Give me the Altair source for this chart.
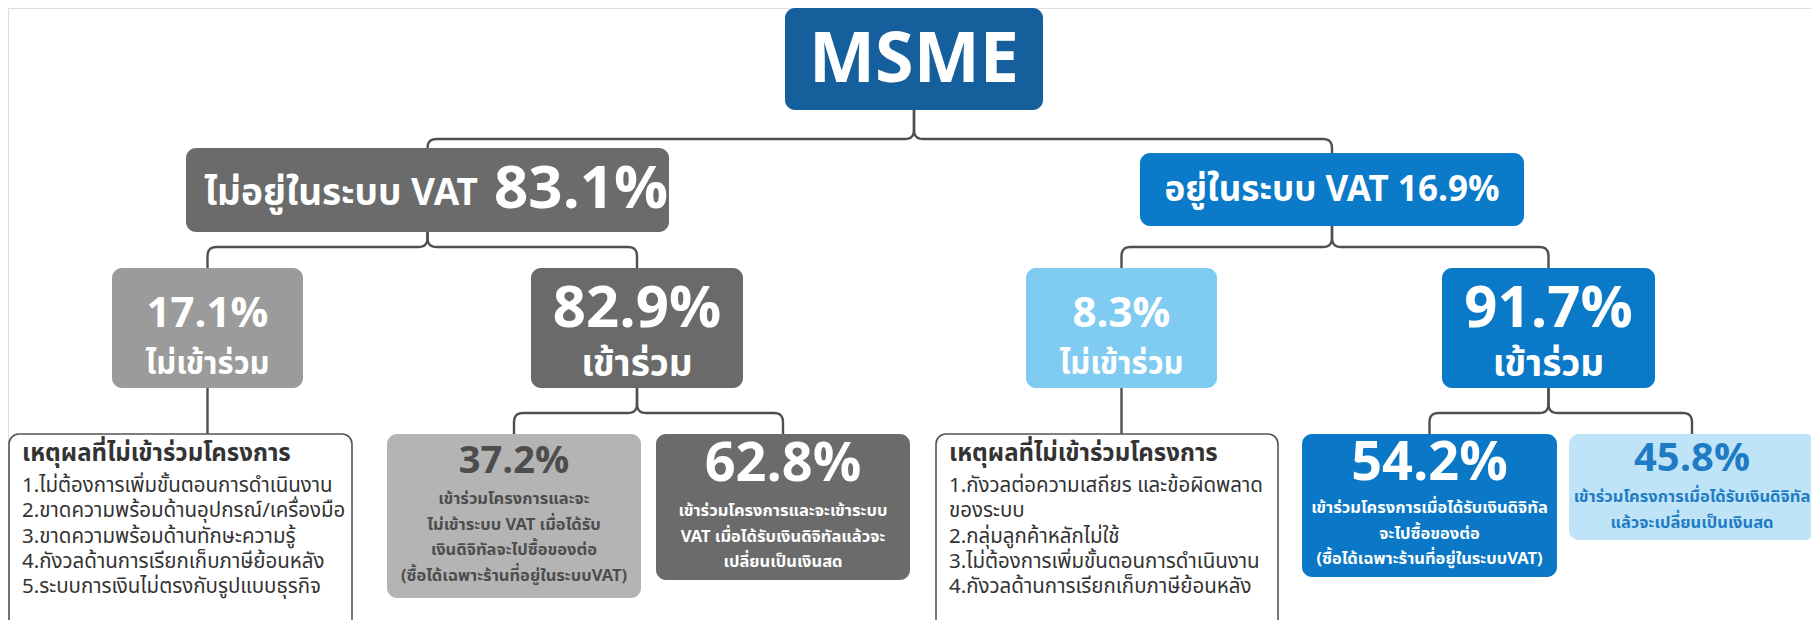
import altair as alt
import pandas as pd
import numpy as np

FONT = "Noto Sans Thai, Noto Sans, Tahoma, sans-serif"

# ---------------- content ----------------
vat_labels = ["ไม่อยู่ในระบบ VAT", "อยู่ในระบบ VAT"]
vat_share = [83.1, 16.9]
join_labels = ["ไม่เข้าร่วม", "เข้าร่วม", "ไม่เข้าร่วม", "เข้าร่วม"]
join_share = [17.1, 82.9, 8.3, 91.7]
use_share = [37.2, 62.8, 54.2, 45.8]
use_desc = [
    ["เข้าร่วมโครงการและจะ", "ไม่เข้าระบบ VAT เมื่อได้รับ", "เงินดิจิทัลจะไปซื้อของต่อ", "(ซื้อได้เฉพาะร้านที่อยู่ในระบบVAT)"],
    ["เข้าร่วมโครงการและจะเข้าระบบ", "VAT เมื่อได้รับเงินดิจิทัลแล้วจะ", "เปลี่ยนเป็นเงินสด"],
    ["เข้าร่วมโครงการเมื่อได้รับเงินดิจิทัล", "จะไปซื้อของต่อ", "(ซื้อได้เฉพาะร้านที่อยู่ในระบบVAT)"],
    ["เข้าร่วมโครงการเมื่อได้รับเงินดิจิทัล", "แล้วจะเปลี่ยนเป็นเงินสด"],
]
reason_title = "เหตุผลที่ไม่เข้าร่วมโครงการ"
reasons_nonvat = ["1.ไม่ต้องการเพิ่มขั้นตอนการดำเนินงาน", "2.ขาดความพร้อมด้านอุปกรณ์/เครื่องมือ",
                  "3.ขาดความพร้อมด้านทักษะความรู้", "4.กังวลด้านการเรียกเก็บภาษีย้อนหลัง",
                  "5.ระบบการเงินไม่ตรงกับรูปแบบธุรกิจ"]
reasons_vat = ["1.กังวลต่อความเสถียร และข้อผิดพลาด", "ของระบบ", "2.กลุ่มลูกค้าหลักไม่ใช้",
               "3.ไม่ต้องการเพิ่มขั้นตอนการดำเนินงาน", "4.กังวลด้านการเรียกเก็บภาษีย้อนหลัง"]

# ---------------- tree layout ----------------
node_id = ["root", "n1", "n2", "n11", "n12", "n21", "n22", "n111", "n121", "n122", "n211", "n221", "n222"]
node_parent = [None, "root", "root", "n1", "n1", "n2", "n2", "n11", "n12", "n12", "n21", "n22", "n22"]
box_x0 = [785, 186, 1140, 112, 531, 1026, 1442, 9, 387, 656, 936, 1302, 1569]
box_x1 = [1043, 669, 1524, 303, 743, 1217, 1655, 352, 641, 910, 1278, 1557, 1815]
box_y0 = [8, 148, 153, 268, 268, 268, 268, 434, 434, 434, 434, 434, 434]
box_y1 = [110, 232, 226, 388, 388, 388, 388, 634, 598, 580, 634, 577, 540]
box_fill = ["#155f9d", "#6b6b6b", "#0b7bc9", "#9b9b9b", "#6a6a6a", "#7fcbf2", "#0a79c7",
            "#ffffff", "#b4b4b4", "#6b6b6b", "#ffffff", "#0a78c6", "#c0e4f7"]
box_stroke = ["none"] * 7 + ["#555555", "none", "none", "#555555", "none", "none"]
branch_y = {"root": 139, "n1": 247, "n2": 247, "n12": 413, "n22": 413}

boxes = pd.DataFrame(dict(id=node_id, parent=node_parent, x0=box_x0, x1=box_x1, y0=box_y0, y1=box_y1,
                          fill=box_fill, stroke=box_stroke))
boxes["cx"] = (boxes.x0 + boxes.x1) / 2
boxes["sw"] = np.where(boxes.stroke == "none", 0, 1.6)
B = boxes.set_index("id")


def qcurve(p0, c, p1, n=6):
    t = np.linspace(0, 1, n)
    return [((1 - s) ** 2 * p0[0] + 2 * (1 - s) * s * c[0] + s ** 2 * p1[0],
             (1 - s) ** 2 * p0[1] + 2 * (1 - s) * s * c[1] + s ** 2 * p1[1]) for s in t]


rows = []
for cid, pid in zip(node_id, node_parent):
    if pid is None:
        continue
    p, c = B.loc[pid], B.loc[cid]
    px, py, cy = p.cx, p.y1, c.y0
    siblings = [k for k in node_parent if k == pid]
    if len(siblings) == 1:
        pts = [(px, py), (px, cy)]
    else:
        cx = c.cx
        my = branch_y[pid]
        s = 1 if cx > px else -1
        r = min(9, abs(cx - px) / 2)
        pts = [(px, py), (px, my - r)]
        pts += qcurve((px, my - r), (px, my), (px + s * r, my))
        pts += [(cx - s * r, my)]
        pts += qcurve((cx - s * r, my), (cx, my), (cx, my + r))
        pts += [(cx, cy)]
    for i, (x, y) in enumerate(pts):
        rows.append(dict(edge=f"{pid}-{cid}", i=i, x=x, y=y))
edges = pd.DataFrame(rows)

# ---------------- text ----------------
def pct(v):
    return f"{v:.1f}%"

T = []  # text, x, y, size, color, weight, align
T.append(("MSME", B.loc["root"].cx, 61, 70, "#ffffff", "bold", "center"))
T.append((vat_labels[0], 478, 194, 37, "#ffffff", "bold", "right"))
T.append((pct(vat_share[0]), 494, 190, 60, "#ffffff", "bold", "left"))
T.append((f"{vat_labels[1]} {pct(vat_share[1])}", B.loc["n2"].cx, 190, 35, "#ffffff", "bold", "center"))
for k, nid in enumerate(["n11", "n12", "n21", "n22"]):
    big = join_share[k] > 50
    T.append((pct(join_share[k]), B.loc[nid].cx, 310 if big else 314, 58 if big else 42,
              "#ffffff", "bold", "center"))
    T.append((join_labels[k], B.loc[nid].cx, 365, 37 if big else 31, "#ffffff", "bold", "center"))
use_nodes = ["n121", "n122", "n221", "n222"]
use_color = ["#4d4d4d", "#ffffff", "#ffffff", "#1f7cc4"]
use_top = [462, 465, 464, 459]
use_big = [38, 54, 54, 40]
use_line0 = [499, 511, 508, 497]
for k, nid in enumerate(use_nodes):
    T.append((pct(use_share[k]), B.loc[nid].cx, use_top[k], use_big[k], use_color[k], "bold", "center"))
    for j, line in enumerate(use_desc[k]):
        T.append((line, B.loc[nid].cx, use_line0[k] + 25.5 * j, 16.5, use_color[k], "bold", "center"))
for nid, items in [("n111", reasons_nonvat), ("n211", reasons_vat)]:
    x0 = B.loc[nid].x0 + 13
    T.append((reason_title, x0, 454, 24, "#333333", "bold", "left"))
    for j, it in enumerate(items):
        T.append((it, x0, 486 + 25.3 * j, 20.5, "#333333", "normal", "left"))

texts = pd.DataFrame(T, columns=["text", "x", "y", "size", "color", "weight", "align"])

# ---------------- chart ----------------
X = alt.Scale(domain=[8, 1811])
Y = alt.Scale(domain=[8, 620], reverse=True)

lines = alt.Chart(edges).mark_line(color="#4f4f4f", strokeWidth=2.4, strokeJoin="round").encode(
    x=alt.X("x:Q", scale=X, axis=None),
    y=alt.Y("y:Q", scale=Y, axis=None),
    detail="edge:N",
    order="i:Q",
)

rects = alt.Chart(boxes).mark_rect(cornerRadius=10).encode(
    x=alt.X("x0:Q", scale=X, axis=None),
    x2="x1:Q",
    y=alt.Y("y0:Q", scale=Y, axis=None),
    y2="y1:Q",
    fill=alt.Fill("fill:N", scale=None),
    stroke=alt.Stroke("stroke:N", scale=None),
    strokeWidth=alt.StrokeWidth("sw:Q", scale=None),
)

layers = [lines, rects]
for (w, a), grp in texts.groupby(["weight", "align"]):
    layers.append(
        alt.Chart(grp).mark_text(font=FONT, fontWeight=w, align=a, baseline="middle").encode(
            x=alt.X("x:Q", scale=X, axis=None),
            y=alt.Y("y:Q", scale=Y, axis=None),
            text="text:N",
            size=alt.Size("size:Q", scale=None),
            color=alt.Color("color:N", scale=None),
        )
    )

chart = alt.layer(*layers).properties(
    width=1803, height=612, padding=0, autosize="none"
).configure_view(stroke=None).configure(background="white")

chart.save("out.html", embed_options={"renderer": "svg", "actions": False})
